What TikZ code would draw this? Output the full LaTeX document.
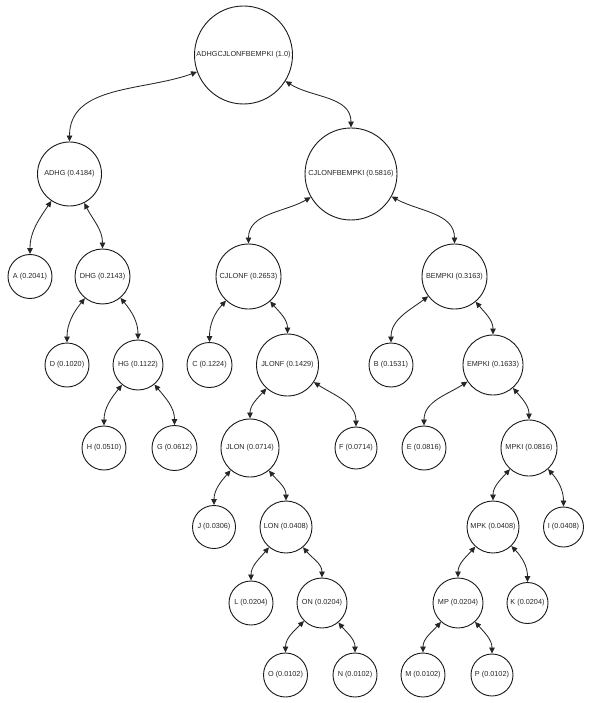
\documentclass[tikz,border=0pt]{standalone}
\usepackage{fontspec}
\setmainfont{Liberation Sans}
\usetikzlibrary{arrows.meta}
\begin{document}
\begin{tikzpicture}[x=1pt,y=1pt,
  nd/.style={circle,draw=black!90,line width=0.9pt,fill=white,inner sep=0pt,
    font=\fontsize{7.3}{8}\selectfont,text=black!85},
  ed/.style={draw=black!85,line width=0.85pt,
    {Triangle[length=6pt,width=5.5pt]}-{Triangle[length=6pt,width=5.5pt]}}]
\useasboundingbox (0,0) rectangle (591,-703);
% rank 0
\node[nd,minimum size=98pt] (R) at (243.5,-55) {ADHGCJLONFBEMPKI (1.0)};
% rank 1
\node[nd,minimum size=64pt] (ADHG) at (69.5,-174) {ADHG (0.4184)};
\node[nd,minimum size=92pt] (CJB) at (351,-174) {CJLONFBEMPKI (0.5816)};
% rank 2
\node[nd,minimum size=44pt] (A) at (30,-276.5) {A (0.2041)};
\node[nd,minimum size=55pt] (DHG) at (102.5,-276.5) {DHG (0.2143)};
\node[nd,minimum size=65pt] (CJ) at (248.5,-276.5) {CJLONF (0.2653)};
\node[nd,minimum size=65pt] (BE) at (454.5,-276.5) {BEMPKI (0.3163)};
% rank 3
\node[nd,minimum size=44pt] (D) at (67,-365) {D (0.1020)};
\node[nd,minimum size=50pt] (HG) at (138,-365) {HG (0.1122)};
\node[nd,minimum size=45pt] (C) at (209.5,-365) {C (0.1224)};
\node[nd,minimum size=62pt] (JLONF) at (287.5,-365) {JLONF (0.1429)};
\node[nd,minimum size=44pt] (B) at (391,-365) {B (0.1531)};
\node[nd,minimum size=60pt] (EMPKI) at (493,-365) {EMPKI (0.1633)};
% rank 4
\node[nd,minimum size=44pt] (H) at (104,-448) {H (0.0510)};
\node[nd,minimum size=45pt] (G) at (174.5,-448) {G (0.0612)};
\node[nd,minimum size=58pt] (JLON) at (250,-448) {JLON (0.0714)};
\node[nd,minimum size=42pt] (F) at (356,-448) {F (0.0714)};
\node[nd,minimum size=44pt] (E) at (424,-448) {E (0.0816)};
\node[nd,minimum size=56pt] (MPKI) at (529,-448) {MPKI (0.0816)};
% rank 5
\node[nd,minimum size=43pt] (J) at (214,-527) {J (0.0306)};
\node[nd,minimum size=52pt] (LON) at (286,-527) {LON (0.0408)};
\node[nd,minimum size=52pt] (MPK) at (493,-527) {MPK (0.0408)};
\node[nd,minimum size=40pt] (I) at (563.5,-527) {I (0.0408)};
% rank 6
\node[nd,minimum size=44pt] (L) at (251,-603) {L (0.0204)};
\node[nd,minimum size=50pt] (ON) at (322,-603) {ON (0.0204)};
\node[nd,minimum size=50pt] (MP) at (458,-603) {MP (0.0204)};
\node[nd,minimum size=41pt] (K) at (527.5,-603) {K (0.0204)};
% rank 7
\node[nd,minimum size=44pt] (O) at (285.5,-675) {O (0.0102)};
\node[nd,minimum size=44pt] (N) at (355,-675) {N (0.0102)};
\node[nd,minimum size=44pt] (M) at (423,-675) {M (0.0102)};
\node[nd,minimum size=42pt] (P) at (492,-675) {P (0.0102)};
% edges
\draw[ed] (R) to[out=200,in=90] (ADHG);
\draw[ed] (R) to[out=-32,in=90] (CJB);
\draw[ed] (ADHG) to[out=-124,in=90] (A);
\draw[ed] (ADHG) to[out=-63,in=90] (DHG);
\draw[ed] (CJB) to[out=-150,in=90] (CJ);
\draw[ed] (CJB) to[out=-29,in=90] (BE);
\draw[ed] (DHG) to[out=-129,in=90] (D);
\draw[ed] (DHG) to[out=-50,in=90] (HG);
\draw[ed] (HG) to[out=-129,in=90] (H);
\draw[ed] (HG) to[out=-50,in=90] (G);
\draw[ed] (CJ) to[out=-133,in=90] (C);
\draw[ed] (CJ) to[out=-49,in=90] (JLONF);
\draw[ed] (JLONF) to[out=-132,in=90] (JLON);
\draw[ed] (JLONF) to[out=-33,in=90] (F);
\draw[ed] (JLON) to[out=-131,in=90] (J);
\draw[ed] (JLON) to[out=-50,in=90] (LON);
\draw[ed] (BE) to[out=-143,in=90] (B);
\draw[ed] (BE) to[out=-50,in=90] (EMPKI);
\draw[ed] (EMPKI) to[out=-147,in=90] (E);
\draw[ed] (EMPKI) to[out=-49,in=90] (MPKI);
\draw[ed] (MPKI) to[out=-132,in=90] (MPK);
\draw[ed] (MPKI) to[out=-48,in=90] (I);
\draw[ed] (MPK) to[out=-132,in=90] (MP);
\draw[ed] (MPK) to[out=-46,in=90] (K);
\draw[ed] (MP) to[out=-132,in=90] (M);
\draw[ed] (MP) to[out=-48,in=90] (P);
\draw[ed] (LON) to[out=-130,in=90] (L);
\draw[ed] (LON) to[out=-50,in=90] (ON);
\draw[ed] (ON) to[out=-135,in=90] (O);
\draw[ed] (ON) to[out=-50,in=90] (N);
\end{tikzpicture}
\end{document}
